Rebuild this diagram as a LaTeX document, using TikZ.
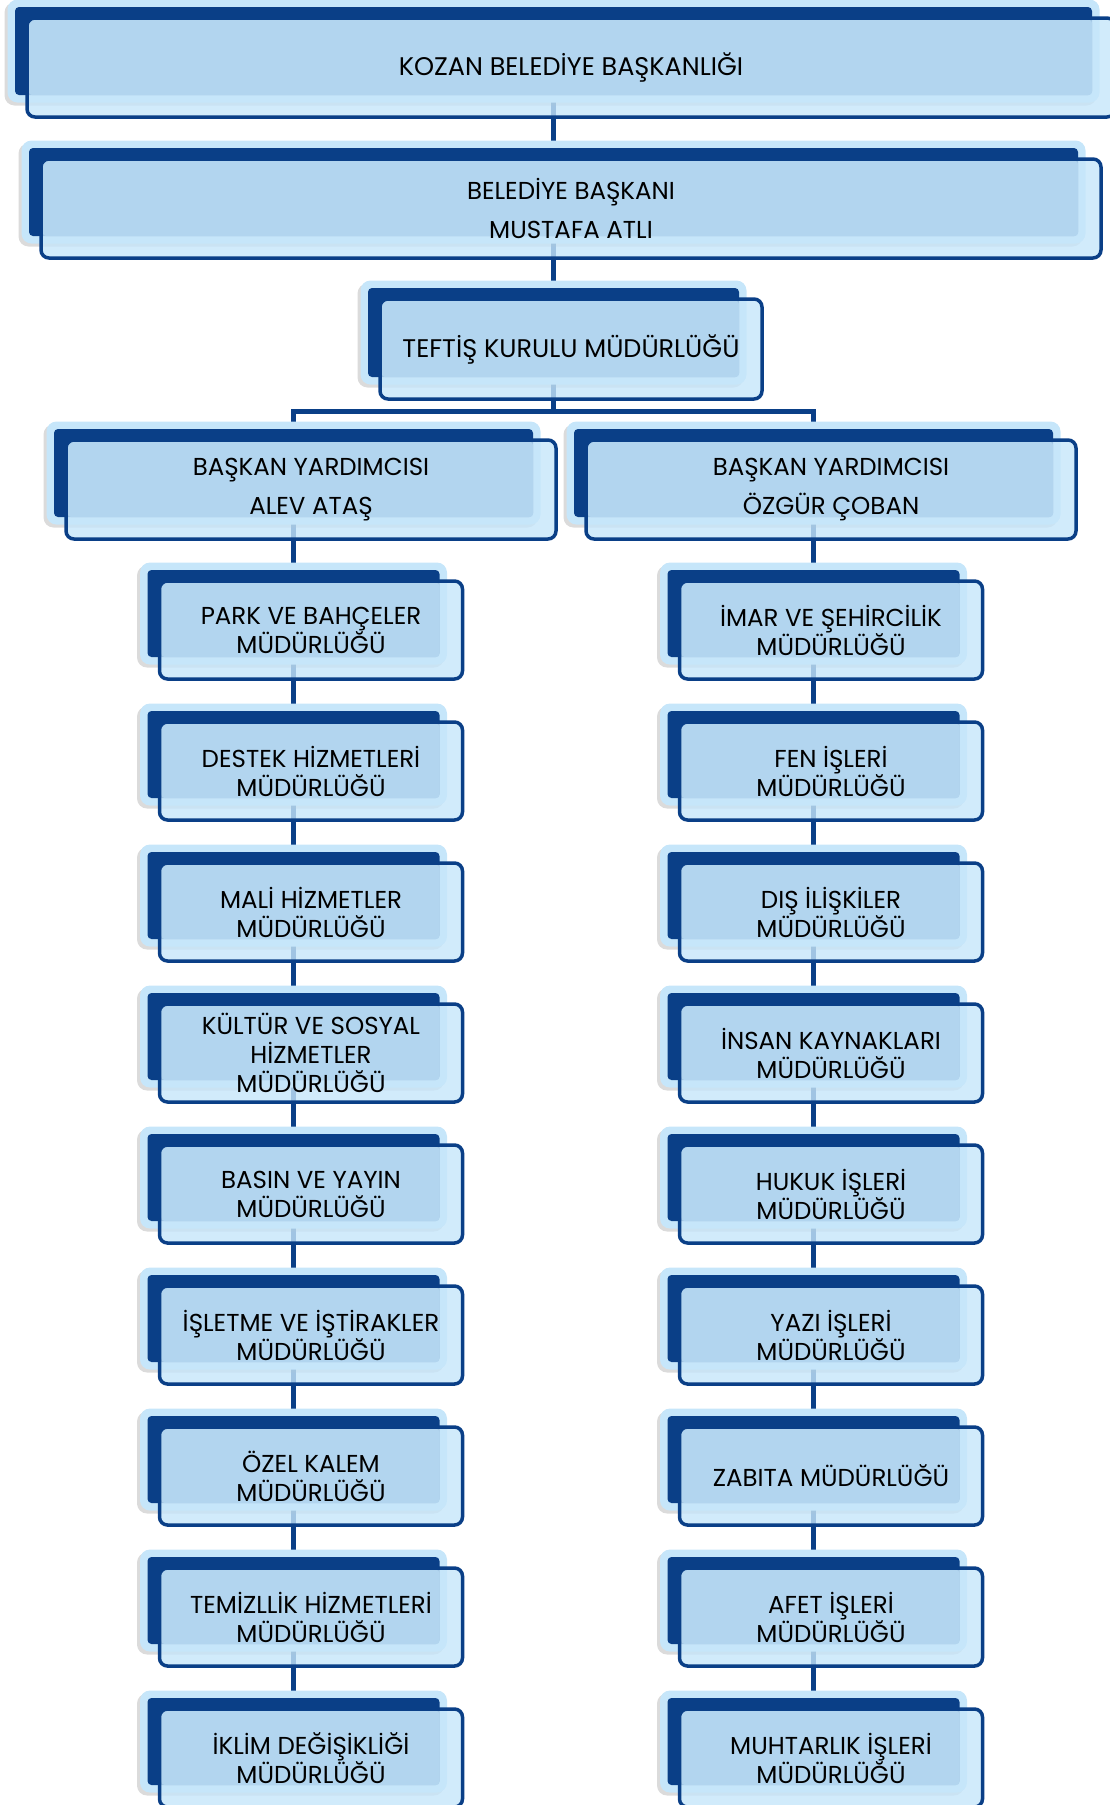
\documentclass[tikz,border=0pt]{standalone}
\usepackage{fontspec}
\setmainfont{Poppins}
\usetikzlibrary{calc}
\usetikzlibrary{backgrounds}
\usetikzlibrary{shadows}
\definecolor{navy}{HTML}{0A3F87}
\definecolor{paleblue}{HTML}{C6E6FA}
\definecolor{midblue}{HTML}{B2D5EF}
\newcommand{\orgbox}[6][]{%
\node (#2-b) at (#3) [backbox, minimum width=#4pt+15pt, minimum height=#5pt+15pt] {};
\node (#2) at (#3) [darkbox, minimum width=#4pt, minimum height=#5pt] {};
\node (#2-f) at ($(#2)+(17.5,16.5)$) [frontfill, minimum width=#4pt+11pt, minimum height=#5pt+11pt] {};
\fill[midblue, rounded corners=4pt] ($(#2-f.north west)+(1.75,1.75)$) rectangle (#2.south east);
\node (#2-t) at (#2-f) [frontline, minimum width=#4pt+11pt, minimum height=#5pt+11pt, #1] {#6};
}
\begin{document}
\begin{tikzpicture}[x=1pt,y=-1pt,
backbox/.style={fill=paleblue, rounded corners=10pt, inner sep=0pt, drop shadow={shadow xshift=-3pt, shadow yshift=-3pt, opacity=0.2, fill=black!70}},
darkbox/.style={fill=navy, rounded corners=4pt, inner sep=0pt},
frontfill/.style={fill=paleblue, fill opacity=0.8, rounded corners=8pt, inner sep=0pt},
frontline/.style={draw=navy, line width=3.5pt, rounded corners=8pt, inner sep=0pt, align=center, font=\fontsize{24.5}{29}\selectfont},
wide/.style={font=\fontsize{24.5}{39}\selectfont},
big/.style={font=\fontsize{25.5}{30}\selectfont},
link/.style={navy, line width=5pt}]
\useasboundingbox (0,0) rectangle (1109,1805);
\orgbox[big]{top}{553.5,51}{1077}{88}{KOZAN BELEDİYE BAŞKANLIĞI}
\orgbox[wide]{pres}{553.5,192}{1049}{88}{BELEDİYE BAŞKANI\\MUSTAFA ATLI}
\orgbox[big]{teftis}{553.5,332.5}{371}{89}{TEFTİŞ KURULU MÜDÜRLÜĞÜ}
\orgbox[wide]{lby}{293.5,473}{479}{88}{BAŞKAN YARDIMCISI\\ALEV ATAŞ}
\orgbox[wide]{rby}{813.5,473}{479}{88}{BAŞKAN YARDIMCISI\\ÖZGÜR ÇOBAN}
\coordinate (bar) at (553.5,411);
\foreach \txt [count=\i from 0] in {{PARK VE BAHÇELER\\MÜDÜRLÜĞÜ}, {DESTEK HİZMETLERİ\\MÜDÜRLÜĞÜ}, {MALİ HİZMETLER\\MÜDÜRLÜĞÜ}, {KÜLTÜR VE SOSYAL\\HİZMETLER\\MÜDÜRLÜĞÜ}, {BASIN VE YAYIN\\MÜDÜRLÜĞÜ}, {İŞLETME VE İŞTİRAKLER\\MÜDÜRLÜĞÜ}, {ÖZEL KALEM\\MÜDÜRLÜĞÜ}, {TEMİZLLİK HİZMETLERİ\\MÜDÜRLÜĞÜ}, {İKLİM DEĞİŞİKLİĞİ\\MÜDÜRLÜĞÜ}} {
  \orgbox{l\i}{293.5,613.5+141*\i}{292}{87}{\txt}
}
\foreach \txt [count=\i from 0] in {{İMAR VE ŞEHİRCİLİK\\MÜDÜRLÜĞÜ}, {FEN İŞLERİ\\MÜDÜRLÜĞÜ}, {DIŞ İLİŞKİLER\\MÜDÜRLÜĞÜ}, {İNSAN KAYNAKLARI\\MÜDÜRLÜĞÜ}, {HUKUK İŞLERİ\\MÜDÜRLÜĞÜ}, {YAZI İŞLERİ\\MÜDÜRLÜĞÜ}, {ZABITA MÜDÜRLÜĞÜ}, {AFET İŞLERİ\\MÜDÜRLÜĞÜ}, {MUHTARLIK İŞLERİ\\MÜDÜRLÜĞÜ}} {
  \orgbox{r\i}{813.5,613.5+141*\i}{292}{87}{\txt}
}
\begin{scope}[on background layer]
\draw[link] (top) -- (pres);
\draw[link] (pres) -- (teftis);
\draw[link] (teftis) -- (bar);
\draw[link] (lby) |- (bar) -| (rby);
\draw[link] (lby) -- (l0);
\draw[link] (rby) -- (r0);
\foreach \i in {1,...,8} {
  \pgfmathtruncatemacro\j{\i-1}
  \draw[link] (l\j) -- (l\i);
  \draw[link] (r\j) -- (r\i);
}
\end{scope}
\end{tikzpicture}
\end{document}
